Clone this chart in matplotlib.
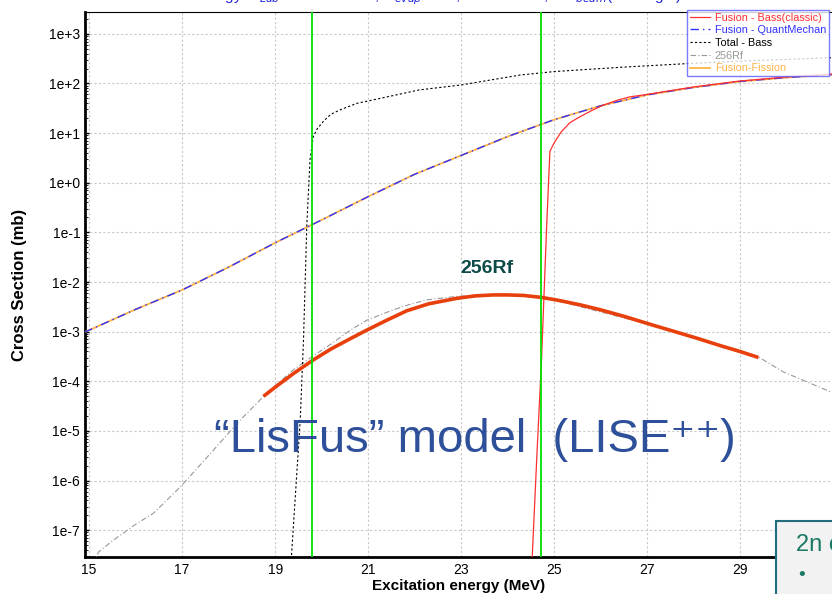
import numpy as np
import matplotlib
matplotlib.use("Agg")
import matplotlib.pyplot as plt
from matplotlib.patches import Rectangle

plt.rcParams['font.family'] = ['Liberation Sans', 'DejaVu Sans']

# Fusion-Fission / QuantMechan (log10 of mb)
e_fus = [14.9, 15, 16, 17, 18, 19, 20, 21, 22, 23, 24, 25, 26, 27, 28, 29, 30, 31]
lg_fus = [-3.01, -2.97, -2.55, -2.16, -1.70, -1.21, -0.75, -0.28, 0.17, 0.55, 0.93, 1.27, 1.55, 1.77, 1.92, 2.04, 2.12, 2.18]

# Fusion - Bass(classic)
e_bass = [24.45, 24.53, 24.63, 24.73, 24.84, 24.91, 25.0, 25.15, 25.34, 25.52, 25.8, 26.05, 26.35, 26.63, 27.0, 28, 29, 30, 31]
lg_bass = [-8.6, -7.54, -5.5, -3.57, -0.885, 0.63, 0.80, 1.02, 1.21, 1.31, 1.45, 1.56, 1.66, 1.73, 1.78, 1.93, 2.05, 2.13, 2.19]

# Total - Bass
e_tot = [19.30, 19.35, 19.54, 19.61, 19.68, 19.75, 19.82, 19.90, 20.05, 20.20, 20.40, 20.76, 21.26, 22.1, 23.0,
         24.27, 25.0, 26.5, 27.86, 29, 31]
lg_tot = [-8.5, -7.54, -4.78, -3.17, -0.885, 0.46, 0.93, 1.08, 1.25, 1.38, 1.47, 1.60, 1.70, 1.87, 1.97,
          2.17, 2.24, 2.33, 2.40, 2.45, 2.52]

# 256Rf (thin gray)
e_rf = [15.0, 15.2, 15.52, 16.0, 16.38, 16.96, 17.67, 18.25, 18.82, 19.39, 19.8, 20.25, 20.6, 20.97, 21.54, 21.9,
        22.26, 22.9, 23.4, 23.84, 24.3, 24.7, 25.2, 25.70, 26.4, 27.13, 27.8, 28.57, 29.36, 29.93, 30.94, 31.2]
lg_rf = [-7.9, -7.44, -7.20, -6.88, -6.66, -6.13, -5.39, -4.78, -4.24, -3.77, -3.50, -3.22, -2.98, -2.77, -2.56, -2.45,
         -2.36, -2.29, -2.26, -2.25, -2.27, -2.31, -2.41, -2.53, -2.70, -2.87, -3.06, -3.27, -3.49, -3.81, -4.21, -4.3]

# 256Rf (thick fit)
e_fit = [18.78, 19.0, 19.4, 19.82, 20.2, 20.6, 20.97, 21.4, 21.83, 22.3, 22.9, 23.3, 23.69, 24.0, 24.34, 24.73,
         25.1, 25.56, 26.0, 26.5, 27.13, 27.6, 28.1, 28.57, 29.0, 29.36]
lg_fit = [-4.28, -4.12, -3.84, -3.57, -3.35, -3.15, -2.97, -2.77, -2.58, -2.44, -2.33, -2.28, -2.26, -2.26, -2.27, -2.31,
          -2.37, -2.46, -2.56, -2.69, -2.87, -3.00, -3.14, -3.28, -3.40, -3.51]

green_lines = [19.80, 24.72]

fig = plt.figure(figsize=(8.32, 5.94), dpi=100)
ax = fig.add_axes([85 / 832, 1 - 557 / 594, 748 / 832, 545 / 594])

ax.plot(e_fus, 10 ** np.array(lg_fus), color='#ffb347', lw=1.3, label='Fusion-Fission', zorder=3)
ax.plot(e_fus, 10 ** np.array(lg_fus), color='#3030ff', lw=1.0, ls=(0, (6, 3, 1, 3)),
        label='Fusion - QuantMechan', zorder=4)
ax.plot(e_bass, 10 ** np.array(lg_bass), color='#ff3030', lw=0.9, label='Fusion - Bass(classic)', zorder=4)
ax.plot(e_tot, 10 ** np.array(lg_tot), color='black', lw=0.8, ls=(0, (2, 2)), label='Total - Bass', zorder=4)
ax.plot(e_rf, 10 ** np.array(lg_rf), color='#999999', lw=0.8, ls=(0, (5, 2, 1, 2)), label='256Rf', zorder=3)
ax.plot(e_fit, 10 ** np.array(lg_fit), color='#e8400c', lw=2.6, zorder=5)
for g in green_lines:
    ax.axvline(g, color='#00e000', lw=1.3, zorder=6)

ax.set_yscale('log')
ax.set_xlim(14.91, 31.0)
ax.set_ylim(10 ** -7.54, 10 ** 3.44)
ax.set_xticks([15, 17, 19, 21, 23, 25, 27, 29, 31])
ax.set_xticklabels(['15', '17', '19', '21', '23', '25', '27', '29', ''])
yt = [10.0 ** k for k in range(-7, 4)]
ax.set_yticks(yt)
ax.set_yticklabels(['1e%+d' % k if k != 0 else '1e+0' for k in range(-7, 4)])
ax.yaxis.set_minor_locator(matplotlib.ticker.LogLocator(base=10, subs=np.arange(2, 10), numticks=20))
ax.yaxis.set_minor_formatter(matplotlib.ticker.NullFormatter())
ax.tick_params(axis='both', direction='in', labelsize=10, length=3, width=1)
ax.tick_params(axis='y', which='minor', direction='in', length=2)
ax.tick_params(axis='x', which='major', length=0, pad=4)
ax.grid(True, which='major', color='#c8c8c8', ls=(0, (2, 2)), lw=0.8)
for s in ['left', 'bottom']:
    ax.spines[s].set_linewidth(2)
ax.spines['right'].set_visible(False)
ax.spines['top'].set_linewidth(0.8)

ax.set_xlabel('Excitation energy (MeV)', fontsize=11, fontweight='bold', labelpad=2)
ax.set_ylabel('Cross Section (mb)', fontsize=12, fontweight='bold', labelpad=16)

fig.text(0.5, 1.005, 'Beam energy: E$_{Lab}$ = 4.73 MeV/u, N$_{evap}$ = 3+, Tentative: 2, 3 E$_{beam}$(1/2 target)',
         color='#2020e0', fontsize=11, ha='center', va='center')

handles, labels = ax.get_legend_handles_labels()
order = ['Fusion - Bass(classic)', 'Fusion - QuantMechan', 'Total - Bass', '256Rf', 'Fusion-Fission']
hmap = dict(zip(labels, handles))
leg = ax.legend([hmap[o] for o in order], order, loc='upper left',
                bbox_to_anchor=((687 - 85) / 748, 1.004), fontsize=7.8, frameon=True, fancybox=False,
                handlelength=1.9, handletextpad=0.4, borderpad=0.25, labelspacing=0.25, borderaxespad=0,
                labelcolor=['#ff3030', '#3030ff', 'black', '#999999', '#ffb347'])
leg.get_frame().set_edgecolor('#5a5aff')
leg.get_frame().set_linewidth(1.0)
leg.set_zorder(10)

ax.text(23.55, 10 ** -1.9, '256Rf', color='#0d4a48', fontsize=14, fontweight='bold', ha='center', va='bottom')
ax.text(15 + (475 - 89) / 46.5, 10 ** (3 - (440 - 34) / 49.6), '\u201cLisFus\u201d model  (LISE\u207a\u207a)',
        color='#2e4f9a', fontsize=34, ha='center', va='center', zorder=7)

fig.patches.append(Rectangle((776 / 832, -0.05), 0.2, (1 - 521 / 594) + 0.05, transform=fig.transFigure,
                             facecolor='#f2f2f2', edgecolor='#1f6e7a', lw=1.5, zorder=20))
fig.text(796 / 832, 1 - 545 / 594, '2n c', color='#1a7a66', fontsize=17, ha='left', va='center', zorder=21)
fig.text(798 / 832, 1 - 576 / 594, '\u2022', color='#1a7a66', fontsize=14, ha='left', va='center', zorder=21)

fig.savefig('out.png', dpi=100)
